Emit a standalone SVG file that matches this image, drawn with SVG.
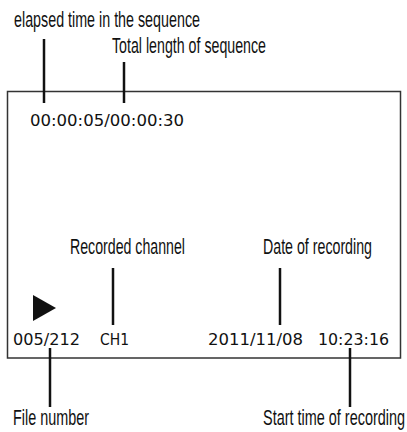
<svg xmlns="http://www.w3.org/2000/svg" width="407" height="432" viewBox="0 0 407 432">
<style>
.lbl{font-family:"Liberation Sans",Arial,sans-serif;font-size:22px;fill:#111}
.scr{font-family:"DejaVu Sans",Verdana,sans-serif;font-size:16px;fill:#111}
.ln{stroke:#111;stroke-width:2.5;fill:none}
</style>
<rect width="407" height="432" fill="#fff"/>
<g id="screen">
<rect x="7.5" y="91.5" width="393" height="266.5" fill="none" stroke="#333" stroke-width="1.5"/>
<text class="scr" x="30" y="126" textLength="154" lengthAdjust="spacingAndGlyphs">00:00:05/00:00:30</text>
<polygon points="33,295 56,308 33,321" fill="#111"/>
<text class="scr" x="13" y="345" textLength="67" lengthAdjust="spacingAndGlyphs">005/212</text>
<text class="scr" x="100" y="345" textLength="29" lengthAdjust="spacingAndGlyphs">CH1</text>
<text class="scr" x="208" y="345" textLength="95" lengthAdjust="spacingAndGlyphs">2011/11/08</text>
<text class="scr" x="318" y="345" textLength="71" lengthAdjust="spacingAndGlyphs">10:23:16</text>
</g>
<g id="elapsed"><text class="lbl" transform="translate(14,27) scale(0.64,1)" textLength="290.6" lengthAdjust="spacingAndGlyphs">elapsed time in the sequence</text></g>
<g id="total"><text class="lbl" transform="translate(112,53) scale(0.64,1)" textLength="240.6" lengthAdjust="spacingAndGlyphs">Total length of sequence</text></g>
<g id="channel"><text class="lbl" transform="translate(70,254) scale(0.64,1)" textLength="179.7" lengthAdjust="spacingAndGlyphs">Recorded channel</text></g>
<g id="date"><text class="lbl" transform="translate(263,254) scale(0.64,1)" textLength="170.3" lengthAdjust="spacingAndGlyphs">Date of recording</text></g>
<g id="filenum"><text class="lbl" transform="translate(13,425) scale(0.64,1)" textLength="118.75" lengthAdjust="spacingAndGlyphs">File number</text></g>
<g id="starttime"><text class="lbl" transform="translate(263,425) scale(0.64,1)" textLength="221.9" lengthAdjust="spacingAndGlyphs">Start time of recording</text></g>
<g id="connectors">
<line class="ln" x1="44" y1="39" x2="44" y2="103"/>
<line class="ln" x1="124" y1="62" x2="124" y2="103"/>
<line class="ln" x1="113" y1="268" x2="113" y2="325"/>
<line class="ln" x1="280" y1="268" x2="280" y2="325"/>
<line class="ln" x1="50" y1="348" x2="50" y2="407"/>
<line class="ln" x1="350" y1="348" x2="350" y2="407"/>
</g>
</svg>
